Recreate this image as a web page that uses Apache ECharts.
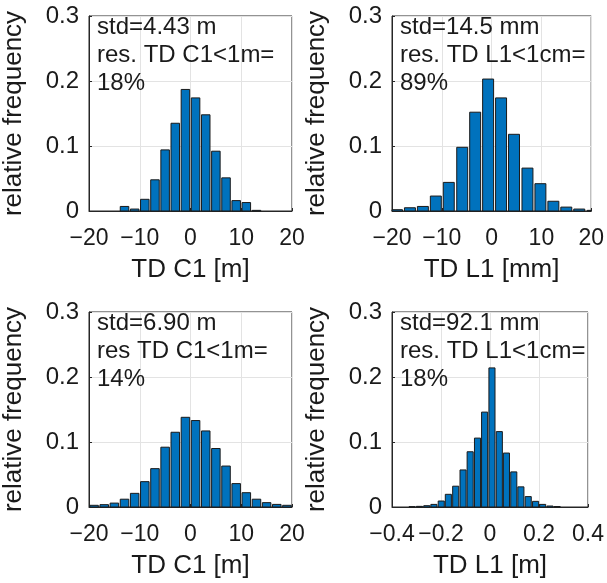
<!DOCTYPE html>
<html>
<head>
<meta charset="utf-8">
<script src="https://cdn.jsdelivr.net/npm/echarts@6/dist/echarts.min.js"></script>
<style>
html,body{margin:0;padding:0;background:#fff;}
#chart{width:607px;height:583px;}
</style>
</head>
<body>
<div id="chart"></div>
<script>
// ---- data ----
// Panel 1: TD C1 [m], bin width 2
const p1Centers = [-13, -11, -9, -7, -5, -3, -1, 1, 3, 5, 7, 9, 11, 13];
const p1Freq    = [0.007, 0.003, 0.018, 0.048, 0.094, 0.135, 0.187, 0.174, 0.148, 0.092, 0.051, 0.016, 0.013, 0.001];
const p1BinWidth = 2;
// Panel 2: TD L1 [mm]
const p2Centers = [-19.0, -16.4, -13.8, -11.2, -8.6, -5.9, -3.3, -0.7, 1.9, 4.5, 7.2, 9.8, 12.4, 15.0, 17.6, 20.3];
const p2Freq    = [0.002, 0.005, 0.007, 0.023, 0.044, 0.098, 0.152, 0.203, 0.174, 0.118, 0.066, 0.042, 0.015, 0.006, 0.003, 0.001];
const p2BinWidth = 2.62;
// Panel 3: TD C1 [m], bin width 2
const p3Centers = [-19, -17, -15, -13, -11, -9, -7, -5, -3, -1, 1, 3, 5, 7, 9, 11, 13, 15, 17, 19];
const p3Freq    = [0.0026, 0.0036, 0.006, 0.012, 0.021, 0.039, 0.059, 0.092, 0.115, 0.138, 0.133, 0.117, 0.090, 0.063, 0.036, 0.022, 0.012, 0.0067, 0.004, 0.0026];
const p3BinWidth = 2;
// Panel 4: TD L1 [m]
const p4Centers = [-0.318, -0.288, -0.258, -0.229, -0.199, -0.170, -0.140, -0.110, -0.081, -0.051, -0.022, 0.008, 0.038, 0.067, 0.097, 0.126, 0.156, 0.186, 0.215, 0.245, 0.274];
const p4Freq    = [0.0005, 0.001, 0.002, 0.004, 0.0092, 0.0195, 0.032, 0.057, 0.085, 0.106, 0.146, 0.214, 0.116, 0.083, 0.054, 0.031, 0.016, 0.0087, 0.004, 0.0015, 0.0007];
const p4BinWidth = 0.0296;

const xLabels = ['TD C1 [m]', 'TD L1 [mm]', 'TD C1 [m]', 'TD L1 [m]'];
const yLabel = 'relative frequency';
const notes = [
  'std=4.43 m\nres. TD C1<1m=\n18%',
  'std=14.5 mm\nres. TD L1<1cm=\n89%',
  'std=6.90 m\nres TD C1<1m=\n14%',
  'std=92.1 mm\nres. TD L1<1cm=\n18%'
];
const xRanges = [[-20, 20, 10], [-20, 20, 10], [-20, 20, 10], [-0.4, 0.4, 0.2]];
const yRange = [0, 0.3, 0.1];

// ---- styling / layout ----
const FONT = '"Liberation Sans", Arial, Helvetica, sans-serif';
const TXT = '#1a1a1a';
const AX = '#262626';
const BAR_FRAC = 0.84;
const grids = [
  {left: 89,  top: 16,  width: 203, height: 195},
  {left: 392, top: 16,  width: 203, height: 195},
  {left: 89,  top: 312, width: 203, height: 195},
  {left: 392, top: 312, width: 203, height: 195}
];

const panels = [
  {c: p1Centers, f: p1Freq, w: p1BinWidth},
  {c: p2Centers, f: p2Freq, w: p2BinWidth},
  {c: p3Centers, f: p3Freq, w: p3BinWidth},
  {c: p4Centers, f: p4Freq, w: p4BinWidth}
];

function fmt(v) {
  const s = String(Math.round(v * 1000) / 1000);
  return s.replace('-', '\u2212');
}

function histItem(width) {
  return function (params, api) {
    const x = api.value(0), y = api.value(1);
    const a = api.coord([x - width * BAR_FRAC / 2, y]);
    const b = api.coord([x + width * BAR_FRAC / 2, 0]);
    const cs = params.coordSys;
    const shape = echarts.graphic.clipRectByRect(
      {x: a[0], y: a[1], width: b[0] - a[0], height: b[1] - a[1]},
      {x: cs.x, y: cs.y, width: cs.width, height: cs.height + 1}
    );
    if (!shape) return null;
    return {type: 'rect', shape: shape,
      style: {fill: '#0072BD', stroke: '#1a1a1a', lineWidth: 1}};
  };
}

const option = {
  animation: false,
  backgroundColor: '#ffffff',
  grid: grids.map(g => Object.assign({show: true, borderColor: AX, borderWidth: 1, backgroundColor: '#fff', containLabel: false}, g)),
  title: notes.map((t, i) => ({
    text: t, left: grids[i].left + 8, top: grids[i].top - 3, padding: 0,
    textStyle: {fontSize: 24, fontWeight: 'normal', lineHeight: 28, fontFamily: FONT, color: TXT}
  })),
  xAxis: xRanges.map((r, i) => ({
    type: 'value', gridIndex: i, min: r[0], max: r[1], interval: r[2],
    name: xLabels[i], nameLocation: 'middle', nameGap: 46,
    nameTextStyle: {fontSize: 26, fontFamily: FONT, color: TXT},
    axisLine: {show: true, onZero: false, lineStyle: {color: AX}},
    axisTick: {show: true, inside: true, length: 3, lineStyle: {color: AX}},
    axisLabel: {fontSize: 23, fontFamily: FONT, color: TXT, margin: 16, hideOverlap: false, showMinLabel: true, showMaxLabel: true, formatter: fmt},
    splitLine: {show: true, lineStyle: {color: '#e3e3e3', width: 1}}
  })),
  yAxis: xRanges.map((r, i) => ({
    type: 'value', gridIndex: i, min: yRange[0], max: yRange[1], interval: yRange[2],
    name: yLabel, nameLocation: 'middle', nameGap: 62, nameRotate: 90,
    nameTextStyle: {fontSize: 26, fontFamily: FONT, color: TXT},
    axisLine: {show: true, onZero: false, lineStyle: {color: AX}},
    axisTick: {show: true, inside: true, length: 3, lineStyle: {color: AX}},
    axisLabel: {fontSize: 24, fontFamily: FONT, color: TXT, margin: 10, showMinLabel: true, showMaxLabel: true, formatter: fmt},
    splitLine: {show: true, lineStyle: {color: '#e3e3e3', width: 1}}
  })),
  series: panels.map((p, i) => ({
    type: 'custom', xAxisIndex: i, yAxisIndex: i,
    renderItem: histItem(p.w),
    encode: {x: 0, y: 1},
    data: p.c.map((c, k) => [c, p.f[k]]),
    z: 3
  }))
};

const chart = echarts.init(document.getElementById('chart'), null, {renderer: 'canvas'});
chart.setOption(option);
</script>
</body>
</html>
